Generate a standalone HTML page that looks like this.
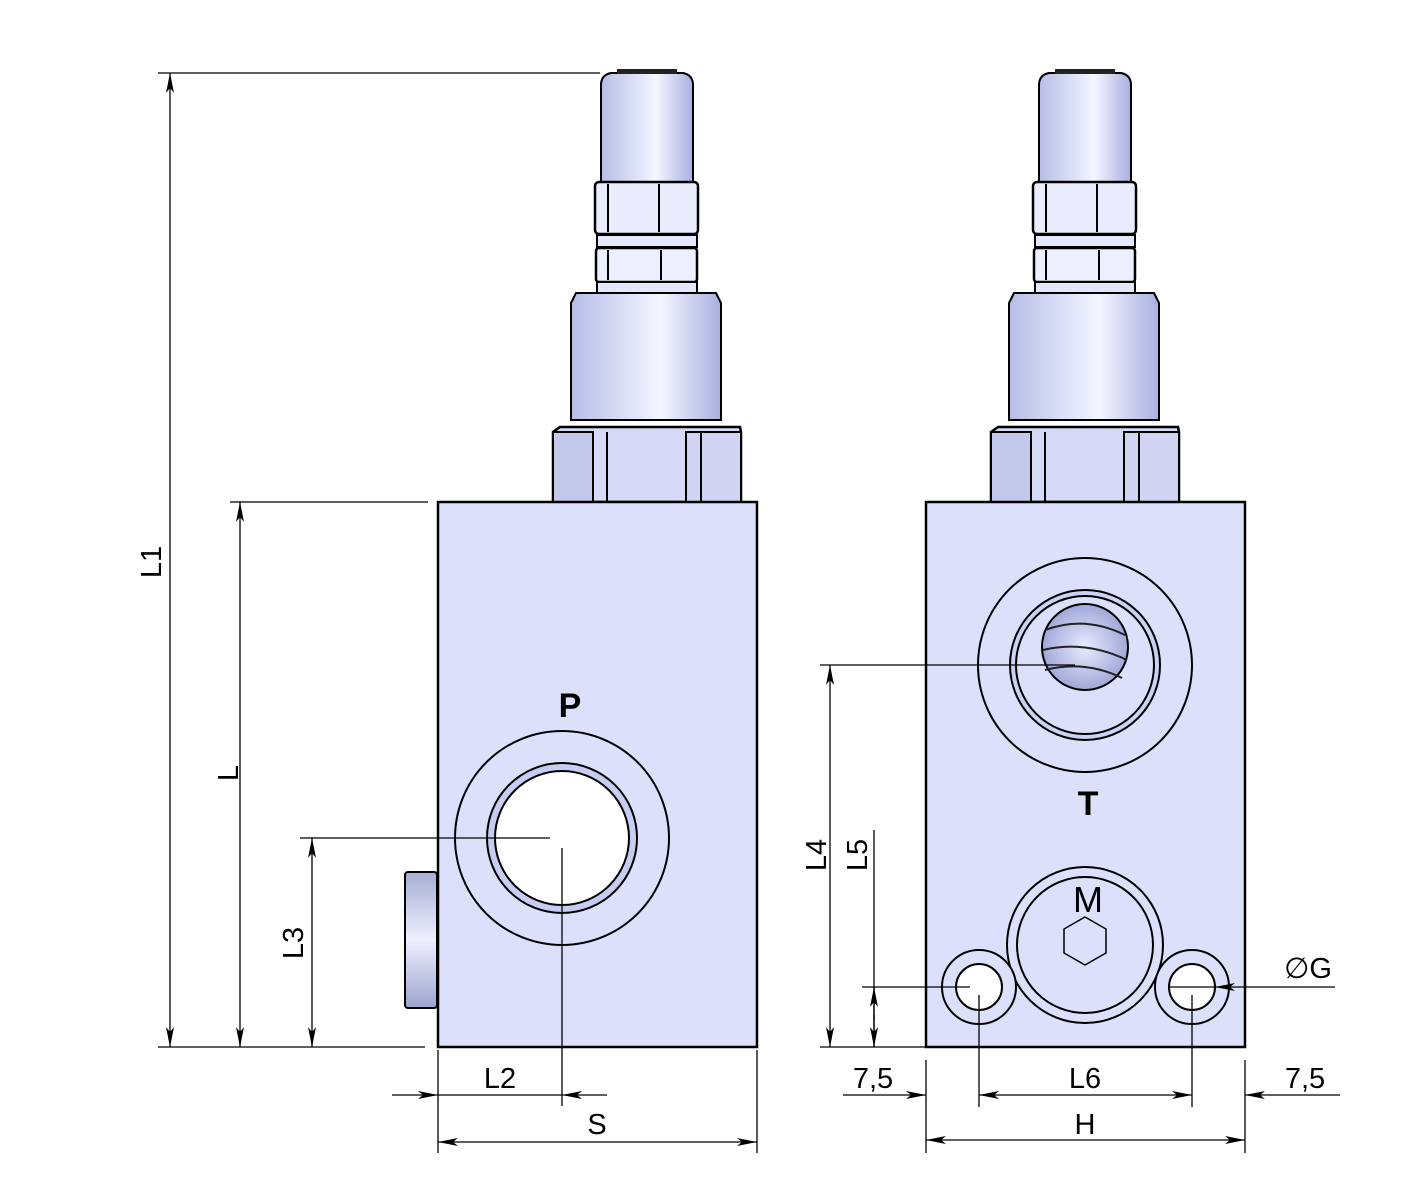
<!DOCTYPE html>
<html><head><meta charset="utf-8"><style>
html,body{margin:0;padding:0;background:#fff;}
svg{display:block;}
text{font-family:"Liberation Sans",Arial,sans-serif;fill:#000;}
</style></head><body>
<svg width="1423" height="1190" viewBox="0 0 1423 1190" xmlns="http://www.w3.org/2000/svg">
<defs>
<linearGradient id="cyl" x1="0" x2="1" y1="0" y2="0">
<stop offset="0" stop-color="#b8bde6"/><stop offset="0.45" stop-color="#e4e8fb"/><stop offset="0.6" stop-color="#f4f6ff"/><stop offset="1" stop-color="#a9afe0"/>
</linearGradient>
<linearGradient id="plug" x1="0" x2="0" y1="0" y2="1">
<stop offset="0" stop-color="#a8acd4"/><stop offset="0.5" stop-color="#eef0ff"/><stop offset="1" stop-color="#9ea3cf"/>
</linearGradient>
<radialGradient id="thr" cx="0.5" cy="0.5" r="0.5">
<stop offset="0" stop-color="#e8ebff"/><stop offset="1" stop-color="#a2a8d8"/>
</radialGradient>
<marker id="a" viewBox="0 0 20 10" refX="20" refY="5" markerWidth="20" markerHeight="10" markerUnits="userSpaceOnUse" orient="auto-start-reverse">
<path d="M0,1 L20,5 L0,9 L5,5 Z" fill="#000"/>
</marker>
<g id="valve">
<!-- cap -->
<path d="M601,85 Q601,75 611,73 L683,73 Q693,75 693,85 L693,182 L601,182 Z" fill="url(#cyl)" stroke="#000" stroke-width="2"/>
<rect x="617" y="69" width="60" height="5" fill="#222"/>
<!-- nut 1 -->
<rect x="595" y="182" width="103" height="52" rx="4" fill="#e9ecfd" stroke="#000" stroke-width="2.5"/>
<line x1="608" y1="184" x2="608" y2="232" stroke="#000" stroke-width="2"/>
<line x1="659" y1="184" x2="659" y2="232" stroke="#000" stroke-width="2"/>
<rect x="597" y="235" width="100" height="12" fill="#e4e7fb" stroke="#000" stroke-width="2"/>
<rect x="596" y="248" width="101" height="34" rx="3" fill="#eceffe" stroke="#000" stroke-width="2.5"/>
<line x1="608" y1="250" x2="608" y2="280" stroke="#000" stroke-width="2"/>
<line x1="661" y1="250" x2="661" y2="280" stroke="#000" stroke-width="2"/>
<rect x="597" y="282" width="100" height="11" fill="#e4e7fb" stroke="#000" stroke-width="2"/>
<!-- big cylinder -->
<path d="M571,303 L576,293 L716,293 L721,303 L721,420 L571,420 Z" fill="url(#cyl)" stroke="#000" stroke-width="2"/>
<!-- big hex -->
<path d="M553,432 L560,427 L740,427 L741,432 L741,502 L553,502 Z" fill="#d6daf6" stroke="#000" stroke-width="2.5"/>
<rect x="553" y="432" width="40" height="70" fill="#c4c8ea" stroke="#000" stroke-width="2"/>
<rect x="686" y="432" width="55" height="70" fill="#d0d4f2" stroke="#000" stroke-width="2"/>
<line x1="607" y1="432" x2="607" y2="502" stroke="#000" stroke-width="2"/>
<line x1="701" y1="432" x2="701" y2="502" stroke="#000" stroke-width="2"/>
</g>
</defs>

<!-- LEFT VIEW -->
<use href="#valve"/>
<rect x="438" y="502" width="319" height="545" fill="#dde0fb" stroke="#000" stroke-width="2.5"/>
<rect x="405" y="872" width="32" height="136" rx="3" fill="url(#plug)" stroke="#000" stroke-width="2"/>
<circle cx="562" cy="838" r="107" fill="none" stroke="#000" stroke-width="2"/>
<circle cx="562" cy="838" r="75" fill="#c8ccf0" stroke="#000" stroke-width="2"/>
<circle cx="562" cy="838" r="67" fill="#fff" stroke="#000" stroke-width="2"/>
<text x="570" y="717" font-size="34" font-weight="bold" text-anchor="middle">P</text>

<!-- RIGHT VIEW -->
<use href="#valve" transform="translate(438,0)"/>
<rect x="926" y="502" width="319" height="545" fill="#dde0fb" stroke="#000" stroke-width="2.5"/>
<circle cx="1085" cy="665" r="107" fill="none" stroke="#000" stroke-width="2"/>
<circle cx="1085" cy="665" r="75" fill="#cdd1f3" stroke="#000" stroke-width="2"/>
<circle cx="1085" cy="665" r="69" fill="#dde0fb" stroke="#000" stroke-width="2"/>
<circle cx="1085" cy="647" r="43" fill="url(#thr)" stroke="#000" stroke-width="2"/>
<path d="M1045,630 Q1085,615 1125,635 M1043,650 Q1085,640 1127,660 M1045,670 Q1085,660 1122,678" fill="none" stroke="#222" stroke-width="2"/>
<text x="1088" y="815" font-size="34" font-weight="bold" text-anchor="middle">T</text>
<circle cx="1085" cy="945" r="78" fill="none" stroke="#000" stroke-width="2"/>
<circle cx="1085" cy="945" r="68" fill="none" stroke="#000" stroke-width="2"/>
<text x="1088" y="912" font-size="36" text-anchor="middle">M</text>
<polygon points="1085,917 1106,929 1106,953 1085,965 1064,953 1064,929" fill="none" stroke="#000" stroke-width="1.5"/>
<circle cx="979" cy="987" r="37" fill="#dde0fb" stroke="#000" stroke-width="2"/>
<circle cx="979" cy="987" r="23" fill="#fff" stroke="#000" stroke-width="2"/>
<circle cx="1192" cy="987" r="37" fill="#dde0fb" stroke="#000" stroke-width="2"/>
<circle cx="1192" cy="987" r="23" fill="#fff" stroke="#000" stroke-width="2"/>

<!-- DIMENSIONS -->
<g stroke="#000" stroke-width="1.3" fill="none">
<line x1="158" y1="73" x2="600" y2="73"/>
<line x1="158" y1="1047" x2="425" y2="1047"/>
<line x1="230" y1="502" x2="428" y2="502"/>
<line x1="300" y1="838" x2="550" y2="838"/>
<line x1="170" y1="73" x2="170" y2="1047" marker-start="url(#a)" marker-end="url(#a)"/>
<line x1="240" y1="502" x2="240" y2="1047" marker-start="url(#a)" marker-end="url(#a)"/>
<line x1="312" y1="838" x2="312" y2="1047" marker-start="url(#a)" marker-end="url(#a)"/>
<line x1="438" y1="1050" x2="438" y2="1153"/>
<line x1="757" y1="1050" x2="757" y2="1153"/>
<line x1="562" y1="848" x2="562" y2="1106"/>
<line x1="392" y1="1095" x2="438" y2="1095" marker-end="url(#a)"/>
<line x1="438" y1="1095" x2="562" y2="1095"/>
<line x1="607" y1="1095" x2="562" y2="1095" marker-end="url(#a)"/>
<line x1="438" y1="1142" x2="757" y2="1142" marker-start="url(#a)" marker-end="url(#a)"/>

<line x1="820" y1="665" x2="1075" y2="665"/>
<line x1="820" y1="1047" x2="926" y2="1047"/>
<line x1="862" y1="987" x2="970" y2="987"/>
<line x1="830" y1="665" x2="830" y2="1047" marker-start="url(#a)" marker-end="url(#a)"/>
<line x1="874" y1="830" x2="874" y2="1047"/>
<line x1="874" y1="1020" x2="874" y2="987" marker-end="url(#a)"/>
<line x1="874" y1="1015" x2="874" y2="1047" marker-end="url(#a)"/>
<line x1="926" y1="1060" x2="926" y2="1153"/>
<line x1="1245" y1="1060" x2="1245" y2="1153"/>
<line x1="979" y1="995" x2="979" y2="1107"/>
<line x1="1192" y1="995" x2="1192" y2="1107"/>
<line x1="843" y1="1095" x2="926" y2="1095" marker-end="url(#a)"/>
<line x1="979" y1="1095" x2="1192" y2="1095" marker-start="url(#a)" marker-end="url(#a)"/>
<line x1="1340" y1="1095" x2="1245" y2="1095" marker-end="url(#a)"/>
<line x1="926" y1="1140" x2="1245" y2="1140" marker-start="url(#a)" marker-end="url(#a)"/>
<line x1="1335" y1="987" x2="1215" y2="987" marker-end="url(#a)"/>
<line x1="1170" y1="987" x2="1215" y2="987"/>
</g>

<g font-size="29">
<text transform="translate(161,562) rotate(-90)" text-anchor="middle">L1</text>
<text transform="translate(238,773) rotate(-90)" text-anchor="middle">L</text>
<text transform="translate(303,943) rotate(-90)" text-anchor="middle">L3</text>
<text x="500" y="1088" text-anchor="middle">L2</text>
<text x="597" y="1134" text-anchor="middle">S</text>
<text transform="translate(826,855) rotate(-90)" text-anchor="middle">L4</text>
<text transform="translate(867,855) rotate(-90)" text-anchor="middle">L5</text>
<text x="873" y="1088" text-anchor="middle">7,5</text>
<text x="1085" y="1088" text-anchor="middle">L6</text>
<text x="1305" y="1088" text-anchor="middle">7,5</text>
<text x="1085" y="1134" text-anchor="middle">H</text>
<text x="1308" y="978" text-anchor="middle">∅G</text>
</g>
</svg>
</body></html>
